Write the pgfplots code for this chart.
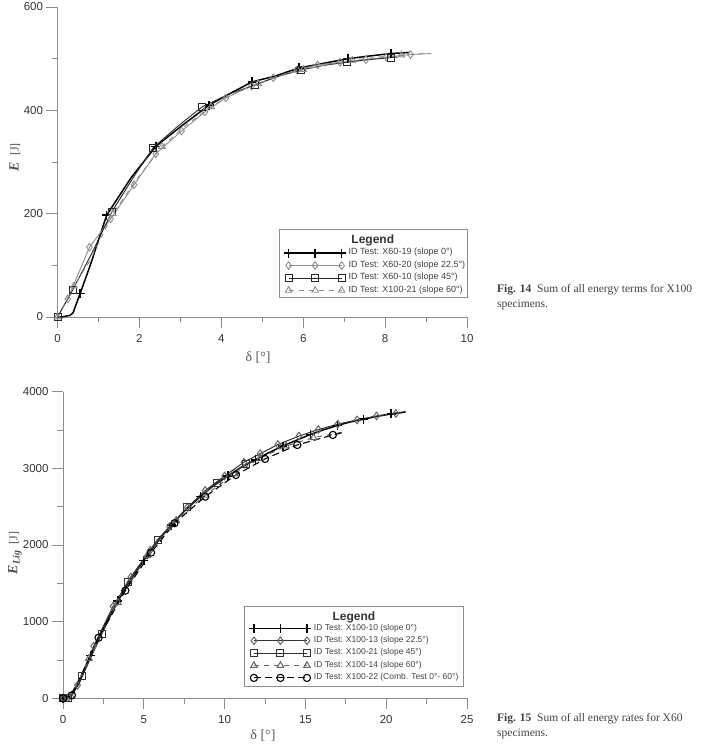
\documentclass[border=0pt]{standalone}
\usepackage{pgfplots}
\pgfplotsset{compat=1.18}
\usepackage{fontspec}
\setmainfont{Liberation Sans}
\newfontfamily\serif{Liberation Serif}

\pgfplotsset{
 myaxis/.style={
  scale only axis, anchor=south west,
  axis x line=bottom, axis y line=left,
  axis line style={-, draw=black!45, line width=0.8pt},
  tick align=outside,
  major tick length=11pt, minor tick length=5.5pt,
  every tick/.style={draw=black!45, line width=0.8pt},
  minor x tick num=1, minor y tick num=1,
  tick label style={font=\fontsize{11.5}{12}\selectfont, text=black!80},
  x tick label style={yshift=-3pt},
  /pgf/number format/assume math mode=true,
  /pgf/number format/1000 sep={},
  clip=false,
  legend cell align=left,
  legend style={draw=none, fill=none, inner sep=0pt, anchor=north west,
    font=\fontsize{9}{10}\selectfont, text=black!75,
    nodes={inner ysep=0pt, inner xsep=2.5pt, text height=8pt, text depth=4.4pt}},
  legend image code/.code={\draw[##1, mark indices={1,2,3}] plot coordinates {(0pt,0pt) (26.5pt,0pt) (53pt,0pt)};},
  xlabel style={font=\serif\fontsize{14}{14}\selectfont, text=black!65, anchor=center},
  ylabel style={font=\fontsize{14}{14}\selectfont, text=black!70, anchor=center},
 },
}

\begin{document}
\begin{tikzpicture}
\path[use as bounding box] (0pt,0pt) rectangle (706pt,744pt);

% ---------------- Fig. 14 ----------------
\begin{axis}[myaxis, at={(57.5pt,427pt)}, width=409.5pt, height=310pt,
  xmin=0, xmax=10, ymin=0, ymax=600,
  xtick={0,2,...,10}, ytick={0,200,400,600},
  xlabel={δ [°]}, xlabel style={at={(axis description cs:0.49,-0.13)}},
  ylabel={{\serif\bfseries\itshape E}\hspace{6pt}{\serif\fontsize{12}{12}\selectfont [J]}},
  ylabel style={at={(axis description cs:-0.104,0.516)}},
  legend style={at={(axis description cs:0.553,0.2265)}},
]
\addplot[black, line width=1.5pt, mark=+, mark size=4.5pt, mark indices={5,7,9,11,13,15,17,19}]
 coordinates {(0,0) (0.1,0) (0.3,3) (0.38,8) (0.55,45) (0.8,100) (1.2,197) (1.8,270) (2.4,330) (3.0,368) (3.7,410) (4.2,432) (4.75,455) (5.3,466) (5.9,482) (6.5,491) (7.1,500) (7.6,505) (8.15,510) (8.6,512)};
\addlegendentry{ID Test: X60-19 (slope 0°)}
\addplot[black!45, line width=0.9pt, mark=diamond, mark size=3.8pt, mark indices={2,3,4,5,6,7,8,9,10,11,12,13,14,15,16,17}]
 coordinates {(0,0) (0.25,35) (0.78,135) (1.3,190) (1.87,256) (2.4,316) (3.03,360) (3.6,397) (4.11,424) (4.74,447) (5.27,463) (5.85,478) (6.35,488) (6.9,493) (7.53,498) (8.03,503) (8.62,508) (9.13,510)};
\addlegendentry{ID Test: X60-20 (slope 22.5°)}
\addplot[black!85, line width=0.9pt, mark=square, mark size=3.5pt, mark indices={1,2,4,6,8,10,12,14,16}]
 coordinates {(0,0) (0.37,52) (0.85,125) (1.33,204) (1.85,270) (2.34,328) (2.95,370) (3.52,406) (4.2,432) (4.82,449) (5.4,466) (5.94,478) (6.5,487) (7.06,493) (7.6,498) (8.14,502) (8.3,503)};
\addlegendentry{ID Test: X60-10 (slope 45°)}
\addplot[black!45, line width=0.9pt, dash pattern=on 5pt off 5pt, mark=triangle, mark size=3.8pt, mark options={solid}, mark indices={1,2,4,6,8,10,12,14,16}]
 coordinates {(0,0) (0.4,60) (0.8,110) (1.35,200) (1.95,268) (2.55,330) (3.15,372) (3.75,407) (4.3,433) (4.9,452) (5.5,468) (6.0,479) (6.6,489) (7.2,497) (7.8,503) (8.4,507) (9.0,510)};
\addlegendentry{ID Test: X100-21 (slope 60°)}
\draw[black!45, line width=0.8pt] (axis description cs:0.543,0.0645) rectangle (axis description cs:1.0,0.284);
\node[font=\bfseries\fontsize{12}{13}\selectfont, text=black!80] at (axis description cs:0.770,0.248) {Legend};
\end{axis}

% ---------------- Fig. 15 ----------------
\begin{axis}[myaxis, at={(63pt,45.7pt)}, width=404pt, height=306.7pt,
  xmin=0, xmax=25, ymin=0, ymax=4000,
  xtick={0,5,...,25}, ytick={0,1000,...,4000},
  xlabel={δ [°]}, xlabel style={at={(axis description cs:0.495,-0.123)}},
  ylabel={{\serif\bfseries\itshape E\textsubscript{\fontsize{10}{10}\selectfont Lig}}\hspace{6pt}{\serif\fontsize{12}{12}\selectfont [J]}},
  ylabel style={at={(axis description cs:-0.119,0.474)}},
  legend style={at={(axis description cs:0.461,0.249)}, font=\fontsize{8.5}{10}\selectfont},
]
\addplot[black, line width=1.5pt, mark=+, mark size=4.5pt, mark indices={1,4,6,8,10,12,14,16,18,20,22,24,26}]
 coordinates {(0,0) (0.5,30) (1.0,200) (1.7,560) (2.6,960) (3.4,1270) (4.2,1540) (5.0,1800) (5.8,2030) (6.7,2260) (7.6,2460) (8.5,2630) (9.3,2770) (10.2,2900) (11.0,3010) (11.9,3110) (12.7,3200) (13.6,3290) (14.5,3370) (15.3,3440) (16.1,3500) (17.0,3560) (17.8,3605) (18.6,3640) (19.4,3675) (20.3,3710) (21.2,3735)};
\addlegendentry{ID Test: X100-10 (slope 0°)}
\addplot[black!80, line width=1pt, mark=diamond, mark size=3.8pt, mark options={draw=black!60}, mark indices={1,2,3,4,5,6,7,8,9,10,11,12,13,14,15,16,17,18,19,20}]
 coordinates {(0,0) (0.35,15) (0.9,170) (1.9,680) (3.1,1200) (4.2,1580) (5.4,1930) (6.6,2240) (7.7,2490) (8.8,2710) (10.0,2900) (11.2,3080) (12.2,3190) (13.3,3310) (14.6,3420) (15.8,3505) (17.0,3575) (18.2,3630) (19.4,3683) (20.6,3715) (21.0,3725)};
\addlegendentry{ID Test: X100-13 (slope 22.5°)}
\addplot[black!80, line width=1pt, mark=square, mark size=3.5pt, mark indices={1,2,3,4,5,6,7,8,9}]
 coordinates {(0,0) (0.3,0) (1.2,290) (2.4,840) (4.0,1520) (5.85,2070) (7.7,2490) (9.5,2810) (11.3,3050) (12.3,3150)};
\addlegendentry{ID Test: X100-21 (slope 45°)}
\addplot[black!60, line width=1pt, dash pattern=on 5pt off 5pt, mark=triangle, mark size=3.8pt, mark options={solid}, mark indices={1,2,3,4,5,6,7,8,9,10,11}]
 coordinates {(0,0) (0.5,25) (1.6,520) (3.4,1250) (5.2,1860) (7.0,2320) (8.8,2650) (10.6,2930) (12.2,3130) (13.8,3290) (15.5,3400) (17.4,3475)};
\addlegendentry{ID Test: X100-14 (slope 60°)}
\addplot[black, line width=1.1pt, dash pattern=on 7pt off 4pt, mark=o, mark size=3.6pt, mark options={solid}, mark indices={1,2,3,4,5,6,7,8,9,10,11}]
 coordinates {(0,0) (0.55,40) (2.2,790) (3.86,1404) (5.45,1900) (6.9,2283) (8.8,2630) (10.7,2913) (12.5,3122) (14.5,3304) (16.7,3435) (17.4,3470)};
\addlegendentry{ID Test: X100-22 (Comb. Test 0°- 60°)}
\draw[black!45, line width=0.8pt] (axis description cs:0.448,0.040) rectangle (axis description cs:0.990,0.301);
\node[font=\bfseries\fontsize{12}{13}\selectfont, text=black!80] at (axis description cs:0.720,0.265) {Legend};
\end{axis}

% captions
\node[anchor=north west, align=left, inner sep=0pt, font=\serif\fontsize{11.5}{15}\selectfont, text=black!75] at (497pt,460pt)
 {\textbf{Fig. 14}\enspace Sum of all energy terms for X100\\specimens.};
\node[anchor=north west, align=left, inner sep=0pt, font=\serif\fontsize{11.5}{15}\selectfont, text=black!75] at (497pt,31pt)
 {\textbf{Fig. 15}\enspace Sum of all energy rates for X60\\specimens.};
\end{tikzpicture}
\end{document}
